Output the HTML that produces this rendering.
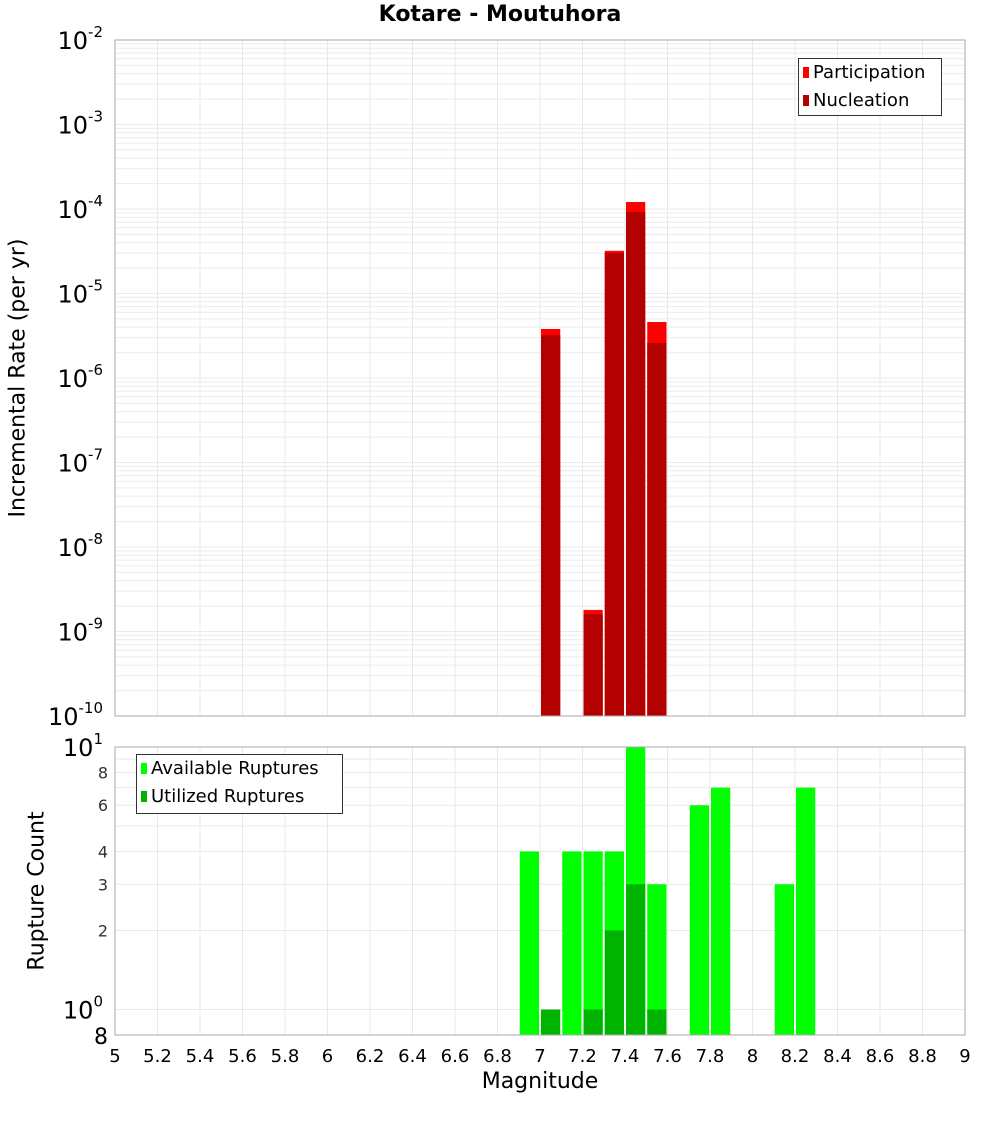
<!DOCTYPE html>
<html><head><meta charset="utf-8"><style>
body{margin:0;background:#fff;font-family:"Liberation Sans","DejaVu Sans",sans-serif}
</style></head><body>
<svg id="c" width="1000" height="1100" xmlns="http://www.w3.org/2000/svg" font-family="DejaVu Sans, Liberation Sans, sans-serif"></svg>
<script>
const topMags=[7.05,7.25,7.35,7.45,7.55];
const participation=[3.8e-6,1.8e-9,3.2e-5,1.21e-4,4.6e-6];
const nucleation=[3.2e-6,1.6e-9,3.0e-5,9.2e-5,2.6e-6];
const availMags=[6.95,7.15,7.25,7.35,7.45,7.55,7.75,7.85,8.15,8.25];
const available=[4,4,4,4,10,3,6,7,3,7];
const utilMags=[7.05,7.25,7.35,7.45,7.55];
const utilized=[1,1,2,3,1];
const xTicks=[5,5.2,5.4,5.6,5.8,6,6.2,6.4,6.6,6.8,7,7.2,7.4,7.6,7.8,8,8.2,8.4,8.6,8.8,9];
const topExp=[-2,-3,-4,-5,-6,-7,-8,-9,-10];
const botTicks=[0.8,2,3,4,6,8];

const NS="http://www.w3.org/2000/svg";const svg=document.getElementById('c');
function el(t,a,p){const e=document.createElementNS(NS,t);for(const k in a)e.setAttribute(k,a[k]);(p||svg).appendChild(e);return e;}
const L=115,R=965,T1=40,B1=716,T2=747,B2=1035;
const x=v=>L+(v-5)*(R-L)/4;
const y1=v=>T1+(-2-Math.log10(v))*(B1-T1)/8;
const y2=v=>T2+(1-Math.log10(v))*(B2-T2)/(1-Math.log10(0.8));
const bw=(R-L)/40;
// grids
const g=el('g',{});
xTicks.forEach(t=>{el('line',{x1:x(t),x2:x(t),y1:T1,y2:B1,stroke:'#e8e8e8'},g);el('line',{x1:x(t),x2:x(t),y1:T2,y2:B2,stroke:'#e8e8e8'},g);});
for(let e=-10;e<-2;e++)for(let m=1;m<10;m++){const yy=y1(m*Math.pow(10,e));el('line',{x1:L,x2:R,y1:yy,y2:yy,stroke:'#ebebeb'},g);}
for(let v=1;v<=10;v++){const yy=y2(v);el('line',{x1:L,x2:R,y1:yy,y2:yy,stroke:'#e8e8e8'},g);}
// top bars
topMags.forEach((m,i)=>{
 let r=el('rect',{x:x(m)-bw/2+1,y:y1(participation[i]),width:bw-2,height:B1-y1(participation[i]),fill:'#ff0000'});
 
 r=el('rect',{x:x(m)-bw/2+1,y:y1(nucleation[i]),width:bw-2,height:B1-y1(nucleation[i]),fill:'#b30000'});
 
});
availMags.forEach((m,i)=>{
 const r=el('rect',{x:x(m)-bw/2+1,y:y2(available[i]),width:bw-2,height:B2-y2(available[i]),fill:'#00ff00'});
 
});
utilMags.forEach((m,i)=>{
 const r=el('rect',{x:x(m)-bw/2+1,y:y2(utilized[i]),width:bw-2,height:B2-y2(utilized[i]),fill:'#00b300'});
 
});
el('rect',{x:L,y:T1,width:R-L,height:B1-T1,fill:'none',stroke:'#aaa'});
el('rect',{x:L,y:T2,width:R-L,height:B2-T2,fill:'none',stroke:'#aaa'});
// y ticks top
topExp.forEach(e=>{const t=el('text',{x:103,y:y1(Math.pow(10,e))+9,'text-anchor':'end','font-size':24,fill:'#000'});
 
 t.textContent='10';const s=el('tspan',{dy:-12,'font-size':15},t);s.textContent=String(e);});
// bottom y ticks
botTicks.forEach(v=>{const t=el('text',{x:108,y:y2(v)+(v===0.8?9:6),'text-anchor':'end','font-size':v===0.8?22:16,fill:v===0.8?'#000':'#333'});
 t.textContent=v===0.8?'8':String(v);});
[[10,'1'],[1,'0']].forEach(([v,e])=>{const t=el('text',{x:103,y:y2(v)+9,'text-anchor':'end','font-size':24,fill:'#000'});
 
 t.textContent='10';const s=el('tspan',{dy:-12,'font-size':15},t);s.textContent=e;});
xTicks.forEach(v=>{const t=el('text',{x:x(v),y:1062,'text-anchor':'middle','font-size':18,fill:'#000'});
 t.textContent=String(v);});
</script>
<svg width="0" height="0"></svg>
<div style="position:absolute;left:0;top:0;width:1000px;height:1100px;pointer-events:none">
<div style="position:absolute;left:0;width:1000px;top:2px;text-align:center;font:bold 22px 'DejaVu Sans','Liberation Sans',sans-serif">Kotare - Moutuhora</div>
<div style="position:absolute;left:0;width:1080px;top:1069px;text-align:center;font:22px 'DejaVu Sans','Liberation Sans',sans-serif">Magnitude</div>
<div style="position:absolute;left:18px;top:378px;width:0;height:0"><div style="position:absolute;transform:translate(-50%,-50%) rotate(-90deg);white-space:nowrap;font:22px 'DejaVu Sans','Liberation Sans',sans-serif">Incremental Rate (per yr)</div></div>
<div style="position:absolute;left:37px;top:891px;width:0;height:0"><div style="position:absolute;transform:translate(-50%,-50%) rotate(-90deg);white-space:nowrap;font:22px 'DejaVu Sans','Liberation Sans',sans-serif">Rupture Count</div></div>
<div style="position:absolute;left:798px;top:58px;width:144px;height:58px;border:1px solid #333;background:#fff;font:18px 'DejaVu Sans','Liberation Sans',sans-serif;line-height:28px;box-sizing:border-box;padding-left:4px">
<div><span style="display:inline-block;width:6px;height:11px;background:#f00;margin-right:4px"></span>Participation</div>
<div><span style="display:inline-block;width:6px;height:11px;background:#b30000;margin-right:4px"></span>Nucleation</div></div>
<div style="position:absolute;left:136px;top:754px;width:207px;height:60px;border:1px solid #333;background:#fff;font:18px 'DejaVu Sans','Liberation Sans',sans-serif;line-height:28px;box-sizing:border-box;padding-left:4px">
<div><span style="display:inline-block;width:6px;height:11px;background:#0f0;margin-right:4px"></span>Available Ruptures</div>
<div><span style="display:inline-block;width:6px;height:11px;background:#00b300;margin-right:4px"></span>Utilized Ruptures</div></div>
</div>
</body></html>
